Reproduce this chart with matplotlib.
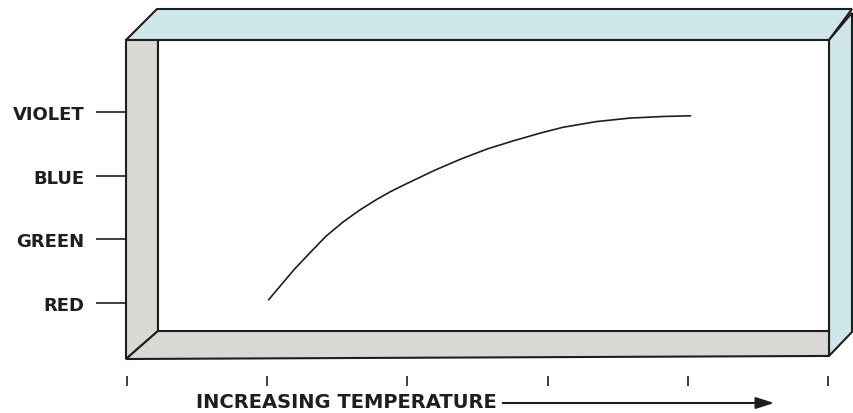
import numpy as np
import matplotlib.pyplot as plt
from matplotlib.patches import Polygon

# colour of the emitted light vs temperature
colour_names = ["RED", "GREEN", "BLUE", "VIOLET"]
colour_levels = [1, 2, 3, 4]
temp_ticks = [0, 1, 2, 3, 4, 5]
temperature = [1.01, 1.19, 1.31, 1.42, 1.54, 1.66, 1.78, 1.88, 2.0, 2.19,
               2.38, 2.57, 2.76, 2.95, 3.11, 3.35, 3.59, 3.83, 4.02]
colour = [1.05, 1.52, 1.80, 2.05, 2.27, 2.46, 2.625, 2.75, 2.88, 3.08,
          3.26, 3.42, 3.55, 3.67, 3.76, 3.85, 3.905, 3.93, 3.94]

BLUE = "#cfe6ea"
GREY = "#d8d8d5"
INK = "#1e1e1a"


def main():
  plt.rcParams['font.family'] = ['DejaVu Sans']
  fig = plt.figure(figsize=(8.54, 4.14), dpi=100)
  ax = fig.add_axes([126 / 854, 54 / 414, 703 / 854, 319 / 414])
  ax.set_xlim(-0.007, 5.007)
  ax.set_ylim(0.12, 5.131)

  # box: front frame x0..x1, y0..y1, inner opening, back edge
  x0, x1 = -0.007, 5.007
  y0, y1 = 0.12, 5.131
  xi, yi = 0.221, 0.56
  xb, yb = 5.171, 5.618
  faces = [
    ([(x0, y1), (0.214, yb), (xb, yb), (x1, y1)], BLUE),       # top
    ([(x1, y1), (xb, yb - 0.06), (xb, 0.545), (x1, 0.168)], BLUE),  # right
    ([(x0, y1), (xi, y1), (xi, yi), (x0, y0)], GREY),         # left
    ([(x0, y0), (xi, yi), (x1, yi), (x1, 0.168)], GREY),      # bottom
  ]
  for pts, c in faces:
    ax.add_patch(Polygon(pts, closed=True, facecolor=c, edgecolor=INK,
                         linewidth=1.5, clip_on=False, joinstyle='miter'))
  ax.add_patch(Polygon([(xi, yi), (xi, y1), (x1, y1), (x1, yi)], closed=True,
                       facecolor="white", edgecolor=INK, linewidth=1.5, clip_on=False))

  ax.plot(temperature, colour, color=INK, linewidth=1.2, zorder=5,
          solid_joinstyle='round', solid_capstyle='round')

  for s in ax.spines.values():
    s.set_visible(False)
  ax.spines['bottom'].set_position(('outward', 12))
  ax.set_facecolor('none')

  ax.set_yticks(colour_levels)
  ax.set_yticklabels(colour_names, fontsize=13, fontweight='bold', color=INK)
  ax.tick_params(axis='y', direction='out', length=21.5, width=1.2, pad=8.5, color=INK)
  ax.set_xticks(temp_ticks)
  ax.set_xticklabels([])
  ax.tick_params(axis='x', direction='out', length=7, width=1.2, color=INK)

  fig.text(346 / 854, 1 - 403 / 414, "INCREASING TEMPERATURE", ha='center', va='center',
           fontsize=14, fontweight='bold', color=INK)
  fig.add_artist(plt.Line2D([503 / 854, 762 / 854], [1 - 404 / 414, 1 - 404 / 414],
                            color=INK, linewidth=1.5))
  ax.annotate("", xy=(777 / 854, 1 - 404 / 414), xytext=(755 / 854, 1 - 404 / 414),
              xycoords='figure fraction', textcoords='figure fraction',
              arrowprops=dict(arrowstyle='-|>,head_length=1.1,head_width=0.35',
                              color=INK, linewidth=1.5))

  plt.savefig("out.png", dpi=100)


if __name__ == '__main__':
  main()
